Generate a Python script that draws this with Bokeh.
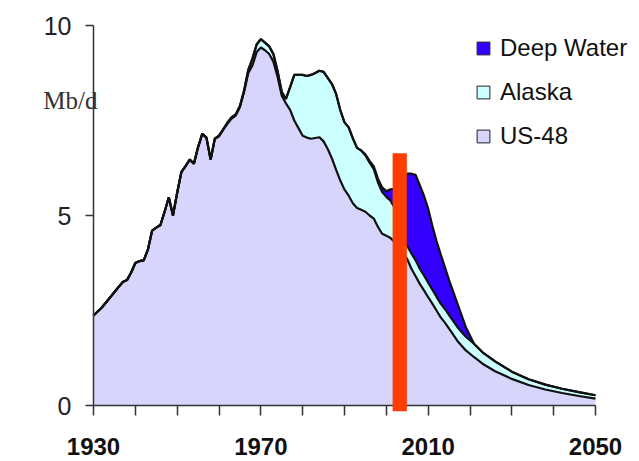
import numpy as np
from bokeh.plotting import figure
from bokeh.models import (ColumnDataSource, Range1d, FixedTicker, Label, Legend,
                          LegendItem)
from bokeh.embed import file_html
from bokeh.resources import INLINE

# ---------------- data (Mb/d) ----------------
years = [1930, 1932, 1934, 1936, 1937, 1938, 1939, 1940, 1941, 1942, 1943, 1944,
         1945, 1946, 1947, 1948, 1949, 1950, 1951, 1952, 1953, 1954, 1955, 1956,
         1957, 1958, 1959, 1960, 1961, 1962, 1963, 1964, 1965, 1966, 1967, 1968,
         1969, 1970, 1971, 1972, 1973, 1974, 1975, 1976, 1977, 1978, 1979, 1980,
         1981, 1982, 1983, 1984, 1985, 1986, 1987, 1988, 1989, 1990, 1991, 1992,
         1993, 1994, 1995, 1996, 1997, 1998, 1999, 2000, 2001, 2002, 2003, 2004,
         2005, 2006, 2007, 2008, 2009, 2010, 2011, 2012, 2013, 2014, 2015, 2017,
         2019, 2021, 2023, 2026, 2030, 2034, 2038, 2042, 2046, 2050]

us48 = [2.37, 2.58, 2.85, 3.12, 3.25, 3.30, 3.50, 3.75, 3.80, 3.82, 4.10, 4.60,
        4.68, 4.75, 5.10, 5.48, 5.00, 5.60, 6.14, 6.30, 6.47, 6.36, 6.80, 7.15,
        7.05, 6.47, 7.02, 7.08, 7.25, 7.41, 7.55, 7.63, 7.85, 8.25, 8.75, 8.95,
        9.30, 9.42, 9.35, 9.25, 9.05, 8.65, 8.15, 7.95, 7.78, 7.50, 7.30, 7.10,
        7.05, 7.02, 7.04, 7.06, 6.95, 6.75, 6.50, 6.20, 5.92, 5.68, 5.52, 5.32,
        5.20, 5.15, 5.10, 5.00, 4.92, 4.70, 4.52, 4.47, 4.41, 4.30, 4.15, 4.00,
        3.85, 3.60, 3.40, 3.20, 3.03, 2.85, 2.68, 2.50, 2.32, 2.18, 2.02, 1.70,
        1.45, 1.27, 1.10, 0.90, 0.70, 0.54, 0.42, 0.33, 0.25, 0.18]

alaska = [0.0] * 27 + [
        0.02, 0.02, 0.03, 0.03, 0.03, 0.03, 0.04, 0.08, 0.18,
        0.20, 0.22, 0.20, 0.20, 0.20, 0.15, 0.10, 0.12, 0.60, 1.20, 1.40, 1.60,
        1.62, 1.68, 1.71, 1.75, 1.83, 1.87, 1.96, 2.00, 1.85, 1.77, 1.80, 1.71,
        1.58, 1.56, 1.48, 1.39, 1.30, 1.17, 1.10, 1.02, 0.98, 0.90, 0.65, 0.45,
        0.35, 0.40, 0.42, 0.40, 0.39, 0.38, 0.37, 0.36, 0.36, 0.36, 0.36, 0.36,
        0.36, 0.35, 0.30, 0.26, 0.19, 0.15, 0.13, 0.11, 0.10, 0.09]

deep_water = [0.0] * 62 + [
        0.03, 0.05, 0.07, 0.10, 0.12, 0.15, 0.30, 0.50, 1.00, 1.50,
        1.90, 2.10, 2.25, 2.20, 2.10, 1.95, 1.68, 1.47, 1.30, 1.10, 0.92, 0.62,
        0.25] + [0.0] * 9

series_names = ["Deep Water", "Alaska", "US-48"]
now_band = [2001.5, 2004.9]   # red marker band (years)
now_band_top = [6.64]
now_band_bottom = [-0.15]

x_ticks = list(range(1930, 2051, 10))
x_labelled = [1930, 1970, 2010, 2050]
y_ticks = [0, 5, 10]
unit_label = "Mb/d"

assert len(years) == len(us48) == len(alaska) == len(deep_water)

# ---------------- stacking ----------------
us48_top = np.array(us48)
alaska_top = us48_top + np.array(alaska)
dw_top = alaska_top + np.array(deep_water)
src = ColumnDataSource(dict(year=years, base=[0.0] * len(years),
                            us48_top=us48_top, alaska_top=alaska_top, dw_top=dw_top))

C_US48 = "#D7D5FB"
C_ALASKA = "#CCFFFF"
C_DW = "#3300FF"
C_RED = "#FF3D00"
FONT = "Liberation Sans"

W, H = 639, 461
# frame fills the canvas; axes are pinned at 1930 / 0
px_per_year = (595 - 93) / 120.0
px_per_unit = (405 - 25) / 10.0
x0 = 1930 - 93 / px_per_year
x1 = 2050 + (W - 595) / px_per_year
y1 = 10 + 25 / px_per_unit
y0 = 0 - (H - 405) / px_per_unit

p = figure(width=W, height=H, output_backend="svg", toolbar_location=None,
           x_range=Range1d(x0, x1), y_range=Range1d(y0, y1),
           min_border_left=0, min_border_top=0, min_border_right=0,
           min_border_bottom=0)
p.outline_line_color = None
p.grid.visible = False
p.background_fill_color = "white"

r_dw = p.varea(x="year", y1="alaska_top", y2="dw_top", source=src, fill_color=C_DW)
r_ak = p.varea(x="year", y1="us48_top", y2="alaska_top", source=src, fill_color=C_ALASKA)
r_us = p.varea(x="year", y1="base", y2="us48_top", source=src, fill_color=C_US48)

for col in ["us48_top", "alaska_top", "dw_top"]:
    p.line(x="year", y=col, source=src, line_color="#111111", line_width=2.2)

# red marker band
p.quad(left=[now_band[0]], right=[now_band[1]], bottom=now_band_bottom,
       top=now_band_top, fill_color=C_RED, line_color=None, level="overlay")

# axes
xa = p.xaxis[0]
xa.fixed_location = 0
xa.bounds = (1930, 2050)
xa.ticker = FixedTicker(ticks=x_ticks)
xa.major_label_overrides = {t: (str(t) if t in x_labelled else "") for t in x_ticks}
xa.major_label_text_font = FONT
xa.major_label_text_font_style = "bold"
xa.major_label_text_font_size = "24px"
xa.major_label_text_color = "#111111"
xa.major_label_standoff = 22
xa.major_tick_out = 10
xa.major_tick_in = 0
xa.minor_tick_out = 0
xa.minor_tick_in = 0
xa.axis_line_color = "#333333"
xa.major_tick_line_color = "#333333"
xa.axis_line_width = 1.5
xa.major_tick_line_width = 1.5

ya = p.yaxis[0]
ya.fixed_location = 1930
ya.bounds = (0, 10)
ya.ticker = FixedTicker(ticks=y_ticks)
ya.major_label_text_font = FONT
ya.major_label_text_font_size = "25px"
ya.major_label_text_color = "#222222"
ya.major_label_standoff = 14
ya.major_tick_out = 8
ya.major_tick_in = 0
ya.minor_tick_out = 0
ya.minor_tick_in = 0
ya.axis_line_color = "#333333"
ya.major_tick_line_color = "#333333"
ya.axis_line_width = 1.5
ya.major_tick_line_width = 1.5

p.add_layout(Label(x=1930.96, y=8.03, text=unit_label, text_align="right",
                   text_baseline="middle", text_font="Liberation Serif",
                   text_font_size="25px", text_color="#333333"))

# legend proxies with outlined swatches (hidden renderers, shown only in legend)
prox = []
for name, col in zip(series_names, [C_DW, C_ALASKA, C_US48]):
    prox.append(p.quad(left=years[:1], right=years[:1], top=[0.0], bottom=[0.0],
                       fill_color=col, line_color="#222222", line_width=1,
                       visible=False))
legend = Legend(items=[LegendItem(label=n, renderers=[r]) for n, r in zip(series_names, prox)],
                location=(475, 310), padding=0, margin=0, spacing=14,
                glyph_width=16, glyph_height=16, label_height=30, label_standoff=9,
                label_text_font=FONT, label_text_font_size="24px",
                label_text_color="#111111", border_line_color=None,
                background_fill_alpha=0, inactive_fill_alpha=0)
p.add_layout(legend)

open("out.html", "w").write(file_html(p, INLINE))
